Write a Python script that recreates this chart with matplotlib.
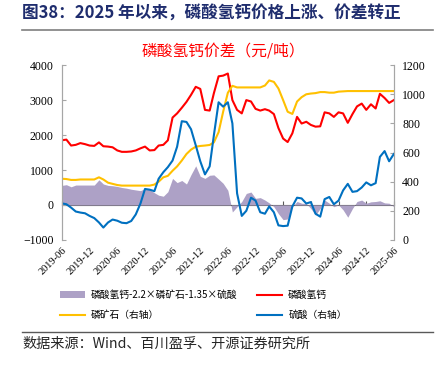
import matplotlib
matplotlib.use('Agg')
import matplotlib.pyplot as plt
import pandas as pd

plt.rcParams['font.family'] = ['Noto Sans CJK SC', 'DejaVu Sans']

# monthly points, 2019-06 .. 2025-06
dates = pd.date_range('2019-06-01', periods=73, freq='MS')

# 磷酸氢钙 (元/吨, left axis)
dcp = [1850, 1870, 1700, 1720, 1770, 1740, 1700, 1690, 1790, 1680,
       1670, 1650, 1560, 1520, 1520, 1530, 1560, 1620, 1670, 1560,
       1570, 1700, 1720, 1850, 2500, 2620, 2780, 2950, 3150, 3380,
       3320, 2720, 2700, 3200, 3680, 3700, 3760, 3000, 2720, 2620,
       3000, 2960, 2750, 2700, 2740, 2700, 2600, 2200, 1900, 1800,
       2050, 2520, 2330, 2380, 2290, 2240, 2250, 2650, 2620, 2520,
       2650, 2620, 2350, 2600, 2820, 2900, 2720, 2880, 2760, 3180,
       3060, 2920, 3000]

# 磷矿石 (right axis)
rock = [420, 418, 412, 412, 415, 415, 415, 415, 430, 415,
        393, 385, 377, 373, 373, 373, 373, 373, 373, 373,
        380, 400, 430, 440, 475, 505, 545, 590, 620, 640,
        645, 648, 652, 670, 740, 880, 1010, 1058, 1047, 1047,
        1047, 1047, 1047, 1047, 1060, 1095, 1085, 1040, 960, 880,
        865, 950, 980, 1000, 1005, 1008, 1015, 1015, 1011, 1011,
        1018, 1020, 1022, 1022, 1022, 1022, 1022, 1022, 1022, 1022,
        1022, 1022, 1022]

# 硫酸 (right axis)
acid = [251, 245, 222, 195, 188, 183, 165, 150, 120, 85,
        120, 140, 132, 118, 115, 130, 175, 250, 350, 345,
        335, 420, 465, 500, 545, 640, 815, 810, 760, 650,
        540, 450, 505, 720, 945, 915, 945, 800, 320, 165,
        200, 290, 270, 190, 180, 230, 190, 100, 95, 98,
        230, 290, 285, 250, 260, 180, 160, 280, 295, 245,
        270, 340, 385, 330, 335, 360, 395, 375, 390, 570,
        610, 540, 590]

# 价差 (left axis)
spread = [560, 580, 520, 570, 570, 570, 570, 570, 720, 600,
          560, 550, 530, 500, 480, 450, 430, 410, 470, 440,
          350, 280, 250, 380, 760, 640, 700, 600, 870, 1120,
          820, 760, 850, 860, 740, 620, 420, -200, -50, 100,
          330, 370, 190, 210, 140, 60, -50, -250, -420, -400,
          -50, 100, 50, 40, -100, -290, -100, 140, 50, -50,
          0, -140, -350, -100, 100, 140, 50, 90, 100, 120,
          60, 50, -50]

tick_dates = pd.date_range('2019-06-01', periods=13, freq='6MS')
tick_labels = [d.strftime('%Y-%m') for d in tick_dates]

fig = plt.figure(figsize=(4.45, 3.68), dpi=100)
ax = fig.add_axes([0.139, 0.348, 0.746, 0.475])
ax2 = ax.twinx()

ax.fill_between(dates, 0, spread, color='#ADA1C6', lw=0,
                label='磷酸氢钙-2.2×磷矿石-1.35×硫酸')
ax.plot(dates, dcp, color='#FF0000', lw=1.5, label='磷酸氢钙')
ax2.plot(dates, rock, color='#FFC000', lw=1.5, label='磷矿石（右轴）')
ax2.plot(dates, acid, color='#0070C0', lw=1.5, label='硫酸（右轴）')

ax.set_ylim(-1000, 4000)
ax2.set_ylim(0, 1200)
ax.set_xlim(dates[0], dates[-1])
ax.set_yticks(range(-1000, 4001, 1000))
ax2.set_yticks(range(0, 1201, 200))

serif = 'Liberation Serif'
for a in (ax, ax2):
    for s in a.spines.values():
        s.set_color('#A6A6A6')
    a.spines['top'].set_visible(False)
    a.spines['bottom'].set_visible(False)
    a.tick_params(axis='y', direction='in', length=3, color='#A6A6A6',
                  labelsize=8.5, pad=6)
    for t in a.get_yticklabels():
        t.set_fontfamily(serif)

ax.set_xticks(tick_dates)
ax.set_xticklabels(tick_labels, rotation=45, ha='right',
                   rotation_mode='anchor', fontfamily=serif, fontsize=7.5)
ax.tick_params(axis='x', length=0, pad=4)

# zero line with tick marks
zx = ax.secondary_xaxis(0.2)
zx.set_xticks(tick_dates)
zx.set_xticklabels([])
zx.tick_params(axis='x', direction='in', length=3, color='#595959')
zx.spines['bottom'].set_color('#595959')

fig.text(0.05, 0.962, '图38：2025 年以来，磷酸氢钙价格上涨、价差转正',
         fontsize=12, fontweight='bold', color='#1F2D6E', va='center')
fig.add_artist(plt.Line2D([0.05, 0.972], [0.918, 0.918], color='#7F7F7F', lw=1.2))
fig.text(0.502, 0.861, '磷酸氢钙价差（元/吨）', fontsize=11.3, color='#FF0000',
         ha='center', va='center')

h1, l1 = ax.get_legend_handles_labels()
h2, l2 = ax2.get_legend_handles_labels()
# column-wise fill: row1 = spread, dcp ; row2 = rock, acid
handles = [h1[0], h2[0], h1[1], h2[1]]
labels = [l1[0], l2[0], l1[1], l2[1]]
fig.legend(handles, labels, loc='center left', bbox_to_anchor=(0.115, 0.171),
           ncol=2, frameon=False, fontsize=7, handlelength=2.6,
           columnspacing=2.0, labelspacing=1.0, handletextpad=0.6)

fig.add_artist(plt.Line2D([0.05, 0.972], [0.098, 0.098], color='#595959', lw=1.0))
fig.text(0.05, 0.066, '数据来源：Wind、百川盈孚、开源证券研究所', fontsize=10.2,
         color='#262626', va='center')

fig.savefig('out.png', dpi=100)
